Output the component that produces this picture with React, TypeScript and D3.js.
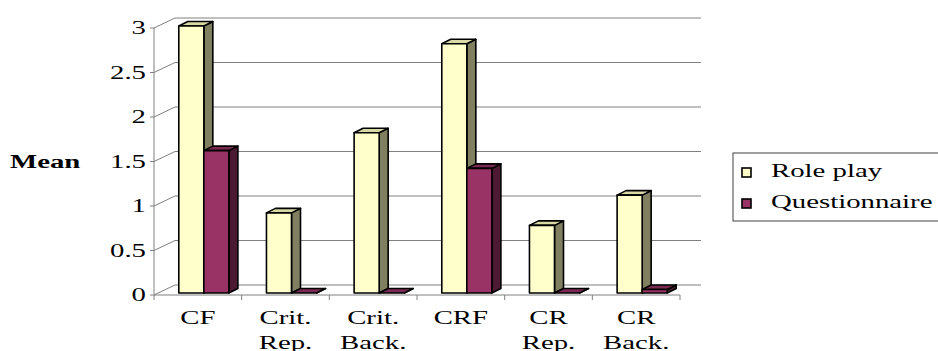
import * as d3 from 'd3';

const categories = [['CF'], ['Crit.', 'Rep.'], ['Crit.', 'Back.'], ['CRF'], ['CR', 'Rep.'], ['CR', 'Back.']];
const rolePlay = [3.0, 0.9, 1.8, 2.8, 0.76, 1.1];
const questionnaire = [1.6, 0, 0, 1.4, 0, 0.04];
const yTicks = [0, 0.5, 1, 1.5, 2, 2.5, 3];
const seriesNames = ['Role play', 'Questionnaire'];

const W = 938;
const H = 351;
const x0 = 154, x1 = 680, yBase = 295, yTop = 28;
const wall = { dx: 21, dy: -10 };
const barOff = { dx: 6, dy: -2 };
const barDepth = { dx: 9, dy: -4.5 };
const stretch = 1.6;
const fs = 18;
const font = '"Liberation Serif", "Times New Roman", serif';

const colors = [
    { front: '#ffffcc', side: '#808060', top: '#d9d9a6' },
    { front: '#993366', side: '#4c1a33', top: '#7a2952' },
];

export default function App() {
    const x = d3.scaleBand<number>().domain(d3.range(categories.length)).range([x0, x1]);
    const y = d3.scaleLinear().domain([0, 3]).range([yBase, yTop]);
    const bw = x.bandwidth() / 3.5;
    const series = [rolePlay, questionnaire];

    const bars: JSX.Element[] = [];
    categories.forEach((_, i) => {
        series.forEach((vals, s) => {
            const c = colors[s];
            const left = (x(i) as number) + bw * 0.75 + s * bw + barOff.dx;
            const right = left + bw;
            const yt = y(vals[i]) + barOff.dy;
            const yb = y(0) + barOff.dy;
            const top = `${left},${yt} ${left + barDepth.dx},${yt + barDepth.dy} ${right + barDepth.dx},${yt + barDepth.dy} ${right},${yt}`;
            const side = `${right},${yt} ${right + barDepth.dx},${yt + barDepth.dy} ${right + barDepth.dx},${yb + barDepth.dy} ${right},${yb}`;
            bars.push(
                <g key={`${i}-${s}`} stroke="#000" strokeWidth={1.6} strokeLinejoin="round">
                    <polygon points={side} fill={c.side} />
                    <polygon points={top} fill={c.top} />
                    {yb - yt > 0 && <rect x={left} y={yt} width={bw} height={yb - yt} fill={c.front} />}
                </g>
            );
        });
    });

    return (
        <svg width={W} height={H} style={{ position: 'absolute', left: 0, top: 0, background: '#fff' }} fontFamily={font}>
            {/* back wall gridlines and left wall diagonals */}
            <g stroke="#808080" strokeWidth={1}>
                {yTicks.map((t) => (
                    <g key={t}>
                        <line x1={x0 + wall.dx} x2={x1 + wall.dx} y1={y(t) + wall.dy} y2={y(t) + wall.dy} />
                        <line x1={x0} x2={x0 + wall.dx} y1={y(t)} y2={y(t) + wall.dy} />
                        <line x1={x0 - 4} x2={x0} y1={y(t)} y2={y(t)} />
                    </g>
                ))}
                <line x1={x0} x2={x0} y1={y(3)} y2={y(0)} />
                <line x1={x0} x2={x1} y1={y(0)} y2={y(0)} />
                {d3.range(categories.length + 1).map((i) => {
                    const xx = i < categories.length ? (x(i) as number) : x1;
                    return <line key={i} x1={xx} x2={xx} y1={y(0)} y2={y(0) + 5} />;
                })}
            </g>
            {bars}
            {/* y tick labels */}
            {yTicks.map((t) => (
                <text
                    key={t}
                    transform={`translate(146,${y(t)}) scale(${stretch},1)`}
                    dy="0.35em"
                    textAnchor="end"
                    fontSize={fs}
                >
                    {t}
                </text>
            ))}
            <text transform={`translate(10,${y(1.5)}) scale(${stretch},1)`} dy="0.35em" fontSize={fs} fontWeight="bold">
                Mean
            </text>
            {/* category labels */}
            {categories.map((lines, i) => (
                <g key={i} transform={`translate(${(x(i) as number) + x.bandwidth() / 2},0)`}>
                    {lines.map((l, k) => (
                        <text key={k} transform={`translate(0,${324 + k * 25}) scale(${stretch},1)`} textAnchor="middle" fontSize={fs}>
                            {l}
                        </text>
                    ))}
                </g>
            ))}
            {/* legend */}
            <rect x={733} y={153} width={220} height={68} fill="#fff" stroke="#404040" strokeWidth={1} />
            {seriesNames.map((n, s) => (
                <g key={n} transform={`translate(0,${168 + s * 31})`}>
                    <rect x={742} y={0} width={9} height={9} fill={colors[s].front} stroke="#000" strokeWidth={1.6} />
                    <text transform={`translate(771,9) scale(${stretch},1)`} fontSize={fs}>
                        {n}
                    </text>
                </g>
            ))}
        </svg>
    );
}
